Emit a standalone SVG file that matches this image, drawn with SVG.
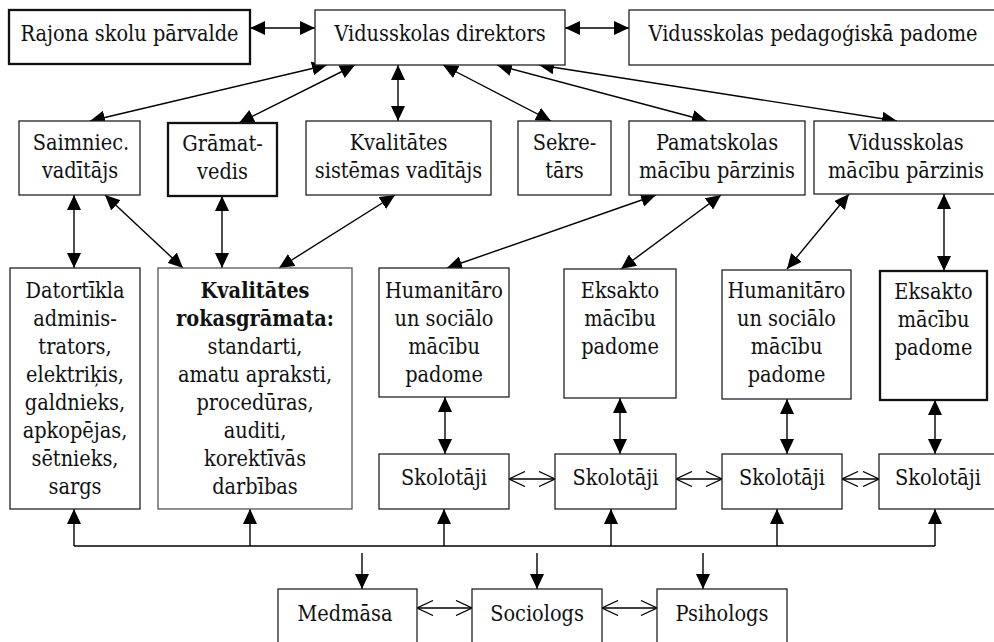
<svg xmlns="http://www.w3.org/2000/svg" width="994" height="642" viewBox="0 0 994 642">
<style>
  .box { fill: #fff; stroke: #222; stroke-width: 1.3; }
  .thick { stroke: #111; stroke-width: 2.3; }
  .gray { stroke: #555; }
  .t text { font-family: 'DejaVu Serif Condensed', 'DejaVu Serif', serif; font-stretch: condensed; font-size: 21.5px; fill: #111; text-anchor: middle; }
  .b { font-weight: bold; }
  .c { stroke: #000; stroke-width: 1.4; fill: none; }
  .d { marker-start: url(#ah); marker-end: url(#ah); }
  .u { marker-end: url(#ah); }
  .o { marker-start: url(#oa); marker-end: url(#oa); }
</style>
<defs>
  <marker id="ah" viewBox="0 0 15 14" refX="15" refY="7" markerWidth="15" markerHeight="14" orient="auto-start-reverse" markerUnits="userSpaceOnUse">
    <path d="M0,0 L15,7 L0,14 z" fill="#000"/>
  </marker>
  <marker id="oa" viewBox="0 0 18 16" refX="17" refY="8" markerWidth="18" markerHeight="16" orient="auto-start-reverse" markerUnits="userSpaceOnUse">
    <path d="M1,0.5 L17,8 L1,15.5" fill="none" stroke="#000" stroke-width="1.3"/>
  </marker>
</defs>
<rect width="994" height="642" fill="#fff"/>

<g id="connectors">
  <line class="c d" x1="250" y1="28" x2="315" y2="28"/>
  <line class="c d" x1="565" y1="28" x2="629" y2="28"/>
  <line class="c d" x1="327" y1="65" x2="90" y2="121"/>
  <line class="c d" x1="355" y1="65" x2="239" y2="123"/>
  <line class="c d" x1="398" y1="65" x2="398" y2="121"/>
  <line class="c d" x1="443" y1="65" x2="551" y2="121"/>
  <line class="c d" x1="497" y1="65" x2="707" y2="121"/>
  <line class="c d" x1="539" y1="65" x2="897" y2="121"/>

  <line class="c d" x1="74" y1="195" x2="74" y2="268"/>
  <line class="c d" x1="105" y1="195" x2="183" y2="268"/>
  <line class="c d" x1="222" y1="196" x2="222" y2="268"/>
  <line class="c d" x1="395" y1="195" x2="279" y2="268"/>
  <line class="c d" x1="656" y1="195" x2="447" y2="268"/>
  <line class="c d" x1="721" y1="195" x2="621" y2="269"/>
  <line class="c d" x1="849" y1="194" x2="787" y2="269"/>
  <line class="c d" x1="944" y1="194" x2="944" y2="271"/>

  <line class="c d" x1="445" y1="397" x2="445" y2="454"/>
  <line class="c d" x1="620" y1="398" x2="620" y2="454"/>
  <line class="c d" x1="787" y1="399" x2="787" y2="454"/>
  <line class="c d" x1="935" y1="400" x2="935" y2="454"/>

  <line class="c o" x1="509" y1="479" x2="555" y2="479"/>
  <line class="c o" x1="676" y1="479" x2="722" y2="479"/>
  <line class="c o" x1="842" y1="479" x2="879" y2="479"/>

  <line class="c" x1="74" y1="546" x2="935" y2="546"/>
  <line class="c u" x1="74" y1="546" x2="74" y2="509"/>
  <line class="c u" x1="250" y1="546" x2="250" y2="509"/>
  <line class="c u" x1="444" y1="546" x2="444" y2="509"/>
  <line class="c u" x1="611" y1="546" x2="611" y2="509"/>
  <line class="c u" x1="777" y1="546" x2="777" y2="509"/>
  <line class="c u" x1="935" y1="546" x2="935" y2="509"/>

  <line class="c u" x1="362" y1="553" x2="362" y2="589"/>
  <line class="c u" x1="537" y1="553" x2="537" y2="589"/>
  <line class="c u" x1="703" y1="553" x2="703" y2="589"/>

  <line class="c o" x1="417" y1="608" x2="472" y2="608"/>
  <line class="c o" x1="602" y1="608" x2="657" y2="608"/>
</g>

<g class="t">
<g id="rajona"><rect class="box thick" x="9" y="10" width="241" height="54"/><text x="129.5" y="41">Rajona skolu pārvalde</text></g>
<g id="direktors"><rect class="box" x="315" y="10" width="250" height="55"/><text x="440" y="41">Vidusskolas direktors</text></g>
<g id="padome"><rect class="box" x="629" y="10" width="372" height="55"/><text x="813" y="41">Vidusskolas pedagoģiskā padome</text></g>

<g id="saimniec"><rect class="box" x="19" y="121" width="121" height="74"/><text x="81" y="150">Saimniec.</text><text x="80" y="178">vadītājs</text></g>
<g id="gramatvedis"><rect class="box thick" x="168" y="123" width="109" height="73"/><text x="222.5" y="151">Grāmat-</text><text x="222.5" y="179">vedis</text></g>
<g id="kvsist"><rect class="box" x="306" y="121" width="185" height="74"/><text x="398.5" y="150">Kvalitātes</text><text x="398.5" y="178">sistēmas vadītājs</text></g>
<g id="sekretars"><rect class="box" x="518" y="121" width="93" height="74"/><text x="564.5" y="150">Sekre-</text><text x="564.5" y="178">tārs</text></g>
<g id="pamatskolas"><rect class="box" x="629" y="121" width="176" height="74"/><text x="717" y="150">Pamatskolas</text><text x="717" y="178">mācību pārzinis</text></g>
<g id="vidusskolas-parz"><rect class="box" x="814" y="121" width="186" height="73"/><text x="906" y="150">Vidusskolas</text><text x="906" y="178">mācību pārzinis</text></g>

<g id="datortikla"><rect class="box" x="10" y="268" width="130" height="241"/>
  <text x="75" y="298">Datortīkla</text><text x="75" y="326">adminis-</text><text x="75" y="354">trators,</text><text x="75" y="382">elektriķis,</text><text x="75" y="410">galdnieks,</text><text x="75" y="438">apkopējas,</text><text x="75" y="466">sētnieks,</text><text x="75" y="494">sargs</text></g>
<g id="rokasgramata"><rect class="box gray" x="158" y="268" width="194" height="241"/>
  <text class="b" x="255" y="298">Kvalitātes</text><text class="b" x="255" y="326">rokasgrāmata:</text><text x="255" y="354">standarti,</text><text x="255" y="382">amatu apraksti,</text><text x="255" y="410">procedūras,</text><text x="255" y="438">auditi,</text><text x="255" y="466">korektīvās</text><text x="255" y="494">darbības</text></g>
<g id="humanitaro1"><rect class="box" x="379" y="268" width="130" height="129"/>
  <text x="444" y="298">Humanitāro</text><text x="444" y="326">un sociālo</text><text x="444" y="354">mācību</text><text x="444" y="382">padome</text></g>
<g id="eksakto1"><rect class="box" x="564" y="269" width="112" height="129"/>
  <text x="620" y="298">Eksakto</text><text x="620" y="326">mācību</text><text x="620" y="354">padome</text></g>
<g id="humanitaro2"><rect class="box" x="722" y="270" width="129" height="129"/>
  <text x="786.5" y="298">Humanitāro</text><text x="786.5" y="326">un sociālo</text><text x="786.5" y="354">mācību</text><text x="786.5" y="382">padome</text></g>
<g id="eksakto2"><rect class="box thick" x="880" y="271" width="107" height="129"/>
  <text x="933.5" y="299">Eksakto</text><text x="933.5" y="327">mācību</text><text x="933.5" y="355">padome</text></g>

<g id="skolotaji1"><rect class="box" x="379" y="454" width="130" height="55"/><text x="444" y="485">Skolotāji</text></g>
<g id="skolotaji2"><rect class="box" x="555" y="454" width="121" height="55"/><text x="615.5" y="485">Skolotāji</text></g>
<g id="skolotaji3"><rect class="box" x="722" y="454" width="120" height="55"/><text x="782" y="485">Skolotāji</text></g>
<g id="skolotaji4"><rect class="box" x="879" y="454" width="120" height="55"/><text x="938" y="485">Skolotāji</text></g>

<g id="medmasa"><rect class="box" x="278" y="589" width="139" height="70"/><text x="345" y="621">Medmāsa</text></g>
<g id="sociologs"><rect class="box" x="472" y="589" width="130" height="70"/><text x="537" y="621">Sociologs</text></g>
<g id="psihologs"><rect class="box" x="657" y="589" width="130" height="70"/><text x="722" y="621">Psihologs</text></g>
</g>
</svg>
